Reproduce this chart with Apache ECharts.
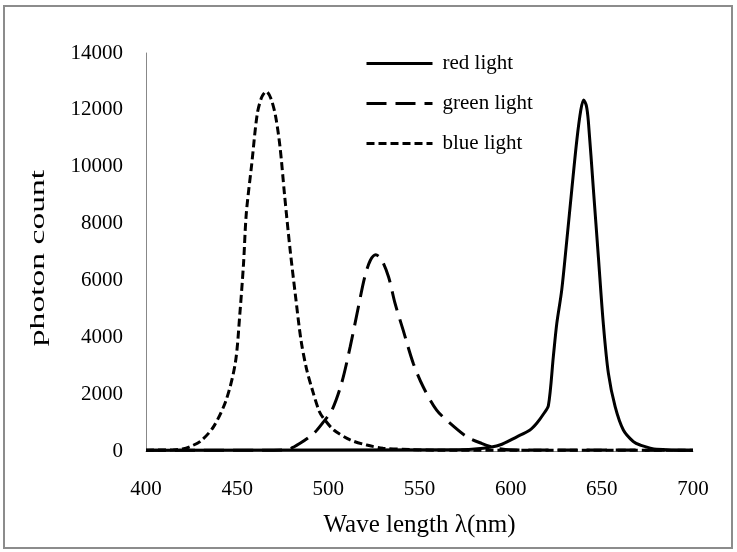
<!DOCTYPE html>
<html>
<head>
<meta charset="utf-8">
<script src="https://cdn.jsdelivr.net/npm/echarts@6/dist/echarts.min.js"></script>
<style>
  html, body { margin: 0; padding: 0; background: #fff; }
  #chart { width: 737px; height: 552px; }
</style>
</head>
<body>
<div id="chart"></div>
<script>
// wavelength (nm) and photon count
var redNm    = [400, 570, 585, 594, 603.4, 610.6, 614.3, 618, 620.7, 623.4, 625.3, 628, 630.8, 633.5, 636.3, 638.5, 640, 641.5, 642.6, 645.4, 648.1, 650.8, 653.6, 657.3, 661.8, 667.3, 671, 680, 700];
var redCount = [30, 40, 100, 210, 500, 740, 975, 1300, 1600, 3320, 4490, 5660, 7420, 9180, 10940, 12000, 12350, 12150, 11600, 9180, 6830, 4490, 2730, 1560, 740, 330, 210, 60, 30];

var greenNm    = [400, 470, 478, 484.5, 492, 497, 502, 507.3, 512, 516.5, 520, 523, 526, 529, 533, 536.6, 541, 546.6, 552, 559.4, 566.8, 576, 584, 592, 600, 700];
var greenCount = [30, 30, 60, 270, 620, 1000, 1440, 2390, 3670, 5075, 6130, 6700, 6900, 6750, 6130, 5190, 4260, 3080, 2260, 1440, 975, 500, 270, 100, 40, 30];

var blueNm    = [400, 415, 420, 424, 430, 437, 444, 449, 451.5, 453.5, 455, 458, 461, 463.5, 466, 468.5, 471, 473.5, 476, 479, 482, 485, 488, 491, 495, 498, 503, 512, 521, 530, 545, 560, 700];
var blueCount = [30, 40, 70, 150, 350, 850, 1800, 3100, 4850, 6600, 8350, 10100, 11850, 12450, 12650, 12400, 11800, 10700, 9000, 7100, 5450, 3900, 2900, 2200, 1400, 1100, 740, 390, 210, 100, 50, 30, 30];

var seriesNames = ['red light', 'green light', 'blue light'];

function pairs(xs, ys) {
  var out = [];
  for (var i = 0; i < xs.length; i++) out.push([xs[i], ys[i]]);
  return out;
}

var font = 'Liberation Serif';
var myChart = echarts.init(document.getElementById('chart'));

var option = {
  backgroundColor: '#fff',
  animation: false,
  graphic: [{
    type: 'rect',
    shape: { x: 4, y: 6, width: 728, height: 542 },
    style: { fill: 'none', stroke: '#8c8c8c', lineWidth: 2 }
  }, {
    // y axis title, stretched along its length like the picture
    type: 'text',
    x: 38, y: 258,
    rotation: Math.PI / 2,
    scaleX: 1.6,
    style: {
      text: 'photon count',
      font: '21px "Liberation Serif"',
      fill: '#000',
      align: 'center',
      verticalAlign: 'middle'
    }
  }],
  grid: { left: 146, right: 44, top: 53, bottom: 101 },
  legend: {
    orient: 'vertical',
    left: 360,
    top: 48,
    itemWidth: 66,
    itemHeight: 14,
    itemGap: 19,
    itemStyle: { opacity: 0 },
    lineStyle: { width: 3 },
    textStyle: { fontFamily: font, fontSize: 21, color: '#000', padding: [0, 0, 0, 5] },
    data: seriesNames
  },
  xAxis: {
    type: 'value',
    min: 400, max: 700, interval: 50,
    name: 'Wave length λ(nm)',
    nameLocation: 'middle',
    nameGap: 62,
    nameTextStyle: { fontFamily: font, fontSize: 25, color: '#000' },
    axisLine: { show: true, lineStyle: { color: '#888', width: 1 } },
    axisTick: { show: false },
    splitLine: { show: false },
    axisLabel: {
      fontFamily: font, fontSize: 21, color: '#000', margin: 28,
      formatter: function (v) { return String(v); }
    }
  },
  yAxis: {
    type: 'value',
    min: 0, max: 14000, interval: 2000,
    axisLine: { show: true, lineStyle: { color: '#888', width: 1 } },
    axisTick: { show: false },
    splitLine: { show: false },
    axisLabel: {
      fontFamily: font, fontSize: 21, color: '#000', margin: 23,
      formatter: function (v) { return String(v); }
    }
  },
  series: [{
    name: seriesNames[0],
    type: 'line',
    smooth: 0.3,
    symbol: 'none',
    lineStyle: { color: '#000', width: 3, type: 'solid' },
    itemStyle: { color: '#000' },
    data: pairs(redNm, redCount)
  }, {
    name: seriesNames[1],
    type: 'line',
    smooth: 0.3,
    symbol: 'none',
    lineStyle: { color: '#000', width: 3, type: [20, 9] },
    itemStyle: { color: '#000' },
    data: pairs(greenNm, greenCount)
  }, {
    name: seriesNames[2],
    type: 'line',
    smooth: 0.3,
    symbol: 'none',
    lineStyle: { color: '#000', width: 3, type: [8, 4] },
    itemStyle: { color: '#000' },
    data: pairs(blueNm, blueCount)
  }]
};

myChart.setOption(option);
</script>
</body>
</html>
